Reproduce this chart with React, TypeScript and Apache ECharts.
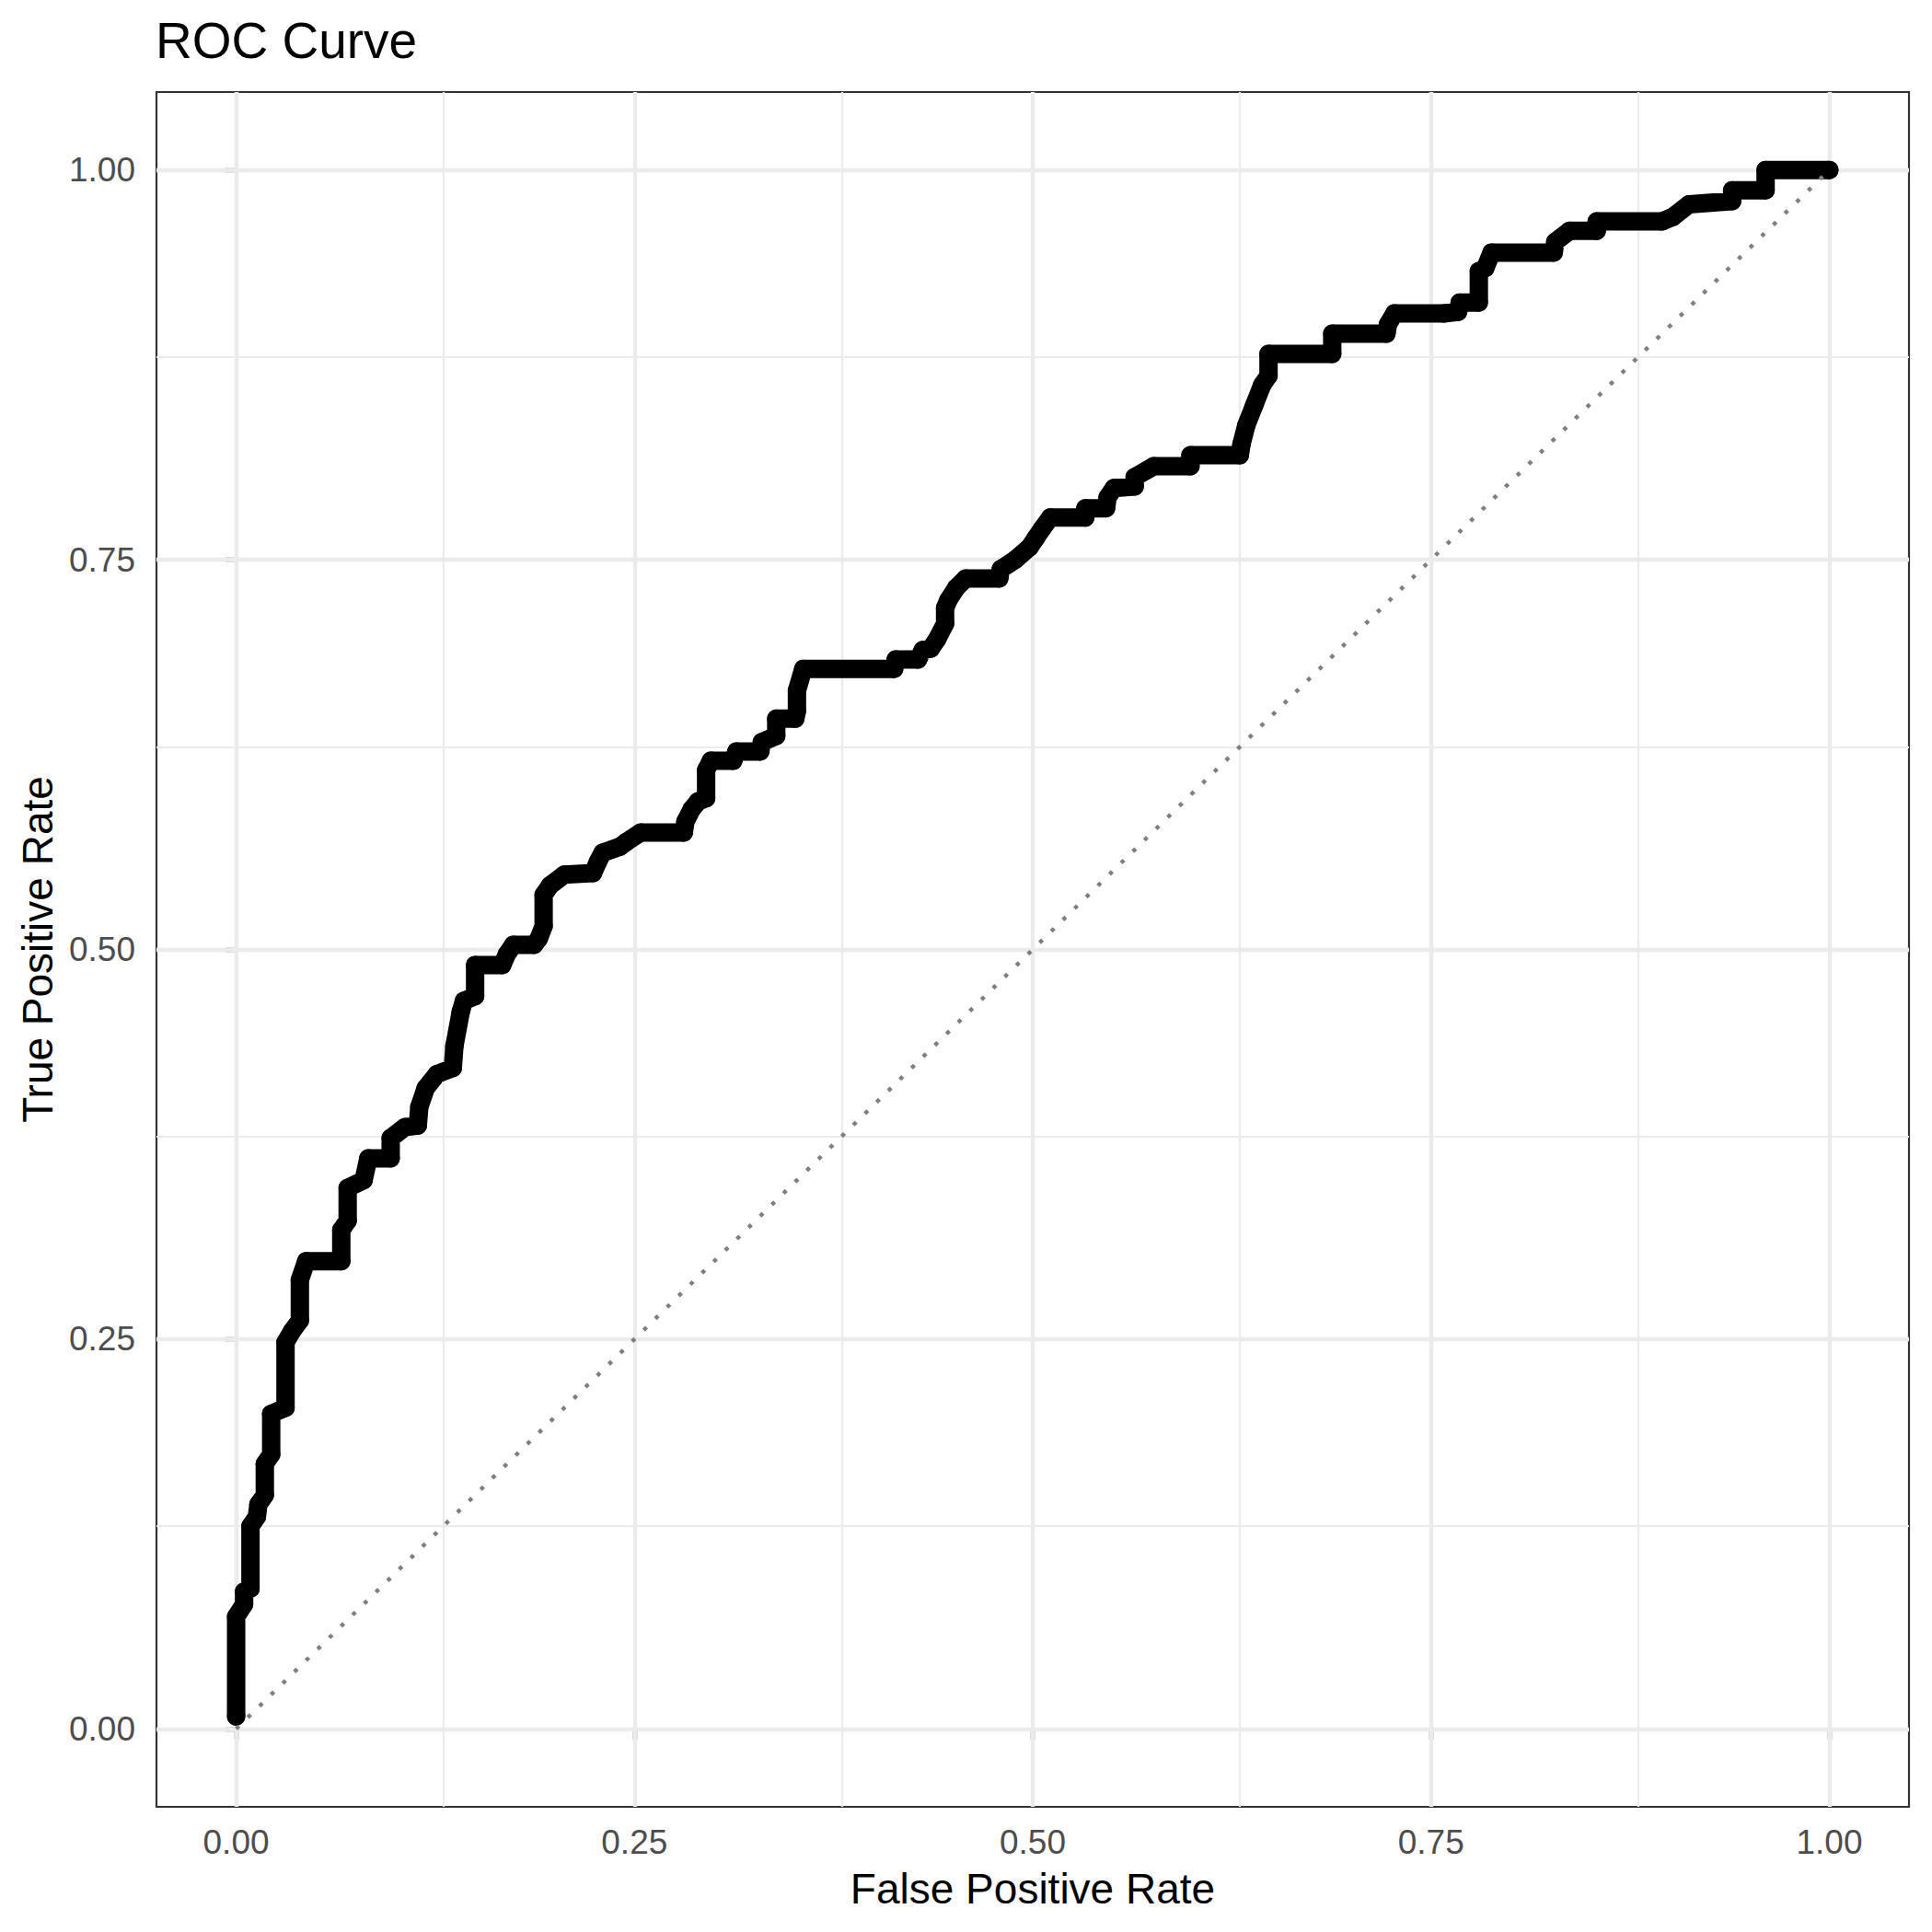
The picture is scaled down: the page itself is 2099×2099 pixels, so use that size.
import React, { useEffect, useRef } from "react";
import * as echarts from "echarts";

const FONT = "Liberation Sans, Arial, Helvetica, sans-serif";

const chartTitle = "ROC Curve";
const xTitle = "False Positive Rate";
const yTitle = "True Positive Rate";

const majorBreaks = [0, 0.25, 0.5, 0.75, 1];
const minorBreaks = [0.125, 0.375, 0.625, 0.875];

// ROC curve corner points
const rocFpr = [
  0, 0, 0.005, 0.005, 0.009, 0.009, 0.013, 0.014, 0.018, 0.018, 0.022, 0.022,
  0.031, 0.031, 0.035, 0.04, 0.04, 0.044, 0.066, 0.066, 0.07, 0.07, 0.08, 0.083,
  0.097, 0.097, 0.106, 0.114, 0.115, 0.119, 0.126, 0.136, 0.137, 0.141, 0.143,
  0.15, 0.15, 0.167, 0.17, 0.174, 0.187, 0.19, 0.193, 0.193, 0.197, 0.206,
  0.224, 0.227, 0.23, 0.241, 0.245, 0.254, 0.281, 0.282, 0.286, 0.29, 0.295,
  0.295, 0.298, 0.312, 0.314, 0.329, 0.33, 0.339, 0.339, 0.351, 0.352, 0.352,
  0.356, 0.413, 0.414, 0.428, 0.431, 0.436, 0.44, 0.445, 0.445, 0.447, 0.452,
  0.458, 0.479, 0.48, 0.489, 0.498, 0.502, 0.506, 0.511, 0.533, 0.533, 0.546,
  0.547, 0.551, 0.564, 0.564, 0.576, 0.599, 0.599, 0.63, 0.631, 0.634, 0.639,
  0.644, 0.648, 0.648, 0.688, 0.688, 0.722, 0.723, 0.727, 0.758, 0.767, 0.768,
  0.78, 0.78, 0.784, 0.788, 0.827, 0.828, 0.837, 0.854, 0.854, 0.895, 0.902,
  0.912, 0.939, 0.939, 0.96, 0.96, 1.0,
];
const rocTpr = [
  0.008, 0.072, 0.08, 0.088, 0.09, 0.13, 0.136, 0.144, 0.15, 0.17, 0.176, 0.202,
  0.206, 0.248, 0.255, 0.262, 0.288, 0.3, 0.3, 0.32, 0.326, 0.347, 0.352, 0.366,
  0.366, 0.379, 0.386, 0.387, 0.399, 0.411, 0.42, 0.424, 0.438, 0.46, 0.467,
  0.47, 0.49, 0.49, 0.497, 0.503, 0.503, 0.507, 0.515, 0.535, 0.541, 0.548,
  0.549, 0.556, 0.562, 0.566, 0.569, 0.575, 0.575, 0.582, 0.59, 0.595, 0.597,
  0.615, 0.621, 0.621, 0.627, 0.627, 0.633, 0.637, 0.648, 0.648, 0.653, 0.666,
  0.68, 0.68, 0.686, 0.686, 0.692, 0.693, 0.699, 0.709, 0.719, 0.724, 0.732,
  0.738, 0.738, 0.744, 0.75, 0.758, 0.764, 0.77, 0.777, 0.777, 0.783, 0.783,
  0.79, 0.796, 0.797, 0.803, 0.81, 0.81, 0.817, 0.817, 0.824, 0.836, 0.849,
  0.862, 0.868, 0.882, 0.882, 0.895, 0.895, 0.901, 0.908, 0.908, 0.909, 0.915,
  0.915, 0.935, 0.937, 0.947, 0.947, 0.954, 0.961, 0.961, 0.967, 0.967, 0.97,
  0.978, 0.98, 0.987, 0.987, 1.0, 1.0,
];

const diagonalX = [0, 1];
const diagonalY = [0, 1];

function axisCommon(name: string) {
  return {
    type: "value" as const,
    min: -0.05,
    max: 1.05,
    name,
    nameLocation: "middle" as const,
    nameTextStyle: { fontFamily: FONT, fontSize: 46, color: "#000000" },
    axisLine: { show: false },
    axisTick: {
      show: true,
      customValues: majorBreaks,
      length: 11.5,
      lineStyle: { color: "#333333", width: 4.4 },
    },
    axisLabel: {
      customValues: majorBreaks,
      formatter: (v: number) => v.toFixed(2),
      fontFamily: FONT,
      fontSize: 37,
      color: "#4D4D4D",
    },
    splitLine: { show: false },
    minorSplitLine: { show: false },
  };
}

export default function App() {
  const ref = useRef<HTMLDivElement>(null);

  useEffect(() => {
    if (!ref.current) return;
    const chart = echarts.init(ref.current, null, { renderer: "svg" });

    const rocData = rocFpr.map((x, i) => [x, rocTpr[i]]);
    const diagData = diagonalX.map((x, i) => [x, diagonalY[i]]);

    const xAxis: any = axisCommon(xTitle);
    xAxis.nameGap = 66;
    xAxis.axisLabel.margin = 20;
    const yAxis: any = axisCommon(yTitle);
    yAxis.nameGap = 106;
    yAxis.axisLabel.margin = 23;

    chart.setOption({
      animation: false,
      backgroundColor: "#FFFFFF",
      title: {
        text: chartTitle,
        left: 169,
        top: 16,
        padding: 0,
        textStyle: {
          fontFamily: FONT,
          fontSize: 55,
          fontWeight: "normal",
          color: "#000000",
        },
      },
      grid: {
        left: 170,
        top: 100,
        width: 1904,
        height: 1863,
        show: true,
        borderColor: "#333333",
        borderWidth: 2.2,
        backgroundColor: "transparent",
      },
      xAxis,
      yAxis,
      series: [
        {
          type: "line",
          data: [],
          silent: true,
          z: 1,
          markLine: {
            silent: true,
            z: 1,
            symbol: ["none", "none"],
            label: { show: false },
            lineStyle: { color: "#EBEBEB", width: 2.2, type: "solid" },
            data: [
              ...minorBreaks.map((v) => ({ xAxis: v })),
              ...minorBreaks.map((v) => ({ yAxis: v })),
            ],
          },
        },
        {
          type: "line",
          data: [],
          silent: true,
          z: 1,
          markLine: {
            silent: true,
            z: 1,
            symbol: ["none", "none"],
            label: { show: false },
            lineStyle: { color: "#EBEBEB", width: 4.4, type: "solid" },
            data: [
              ...majorBreaks.map((v) => ({ xAxis: v })),
              ...majorBreaks.map((v) => ({ yAxis: v })),
            ],
          },
        },
        {
          type: "line",
          data: rocData,
          z: 3,
          showSymbol: true,
          showAllSymbol: true,
          symbol: "circle",
          symbolSize: 20,
          itemStyle: { color: "#000000" },
          lineStyle: { color: "#000000", width: 20, cap: "round", join: "round" },
        },
        {
          type: "line",
          data: diagData,
          z: 4,
          showSymbol: false,
          lineStyle: {
            color: "#7F7F7F",
            width: 4.4,
            type: [4.4, 13.3],
            cap: "butt",
          },
        },
      ],
    });

    return () => chart.dispose();
  }, []);

  return (
    <div
      ref={ref}
      style={{ position: "absolute", left: 0, top: 0, width: 2099, height: 2099 }}
    />
  );
}
